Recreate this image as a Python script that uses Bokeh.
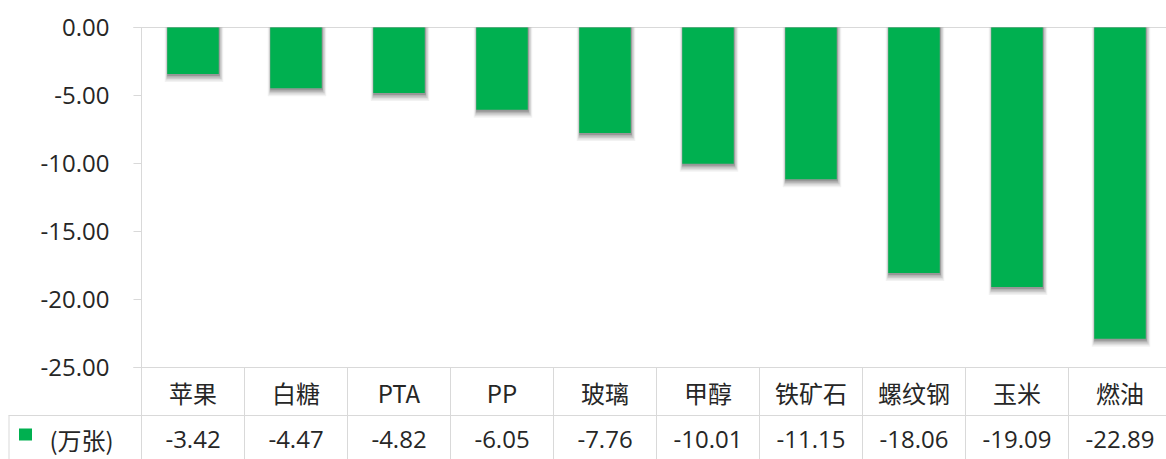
from bokeh.plotting import figure
from bokeh.models import Range1d, ColumnDataSource
from bokeh.core.properties import value
from bokeh.embed import file_html
from bokeh.resources import INLINE

# ---- data ----
categories = ["苹果", "白糖", "PTA", "PP", "玻璃", "甲醇", "铁矿石", "螺纹钢", "玉米", "燃油"]
values = [-3.42, -4.47, -4.82, -6.05, -7.76, -10.01, -11.15, -18.06, -19.09, -22.89]
series_name = "(万张)"
y_ticks = [0, -5, -10, -15, -20, -25]

GREEN = "#00B050"
TEXT = "#262626"
GRID = "#d9d9d9"
NUM_FONT = "Open Sans"
CJK_FONT = "Noto Sans CJK SC"

W, H = 1166, 459
PLOT_LEFT = 141     # page x of the value axis
PLOT_TOP = 27       # page y of the zero line
CAT_PX = 103        # px per category
PX_PER_UNIT = 13.6  # px per y unit


def X(page_x):
    return (page_x - PLOT_LEFT) / CAT_PX


def Y(page_y):
    return -(page_y - PLOT_TOP) / PX_PER_UNIT


px_x = 1.0 / CAT_PX
px_y = 1.0 / PX_PER_UNIT

n = len(categories)
xs = [i + 0.5 for i in range(n)]
x_lo, x_hi = X(0), X(W)
y_lo, y_hi = Y(H), Y(0)

bars = ColumnDataSource(dict(x=xs, top=[0] * n, bottom=values,
                             label=categories,
                             vtxt=["%.2f" % v for v in values]))
ticks = ColumnDataSource(dict(y=y_ticks, txt=["%.2f" % t if t != 0 else "0.00" for t in y_ticks]))

p = figure(width=W, height=H, output_backend="svg", toolbar_location=None,
           x_range=Range1d(x_lo, x_hi), y_range=Range1d(y_lo, y_hi),
           x_axis_location=None, y_axis_location=None, min_border=0)
p.outline_line_color = None
p.background_fill_color = "white"
p.border_fill_color = "white"
p.grid.visible = False

# horizontal rules at 0 and -25 (extend over the tick marks)
p.segment(x0=X(133), y0=[y_ticks[0], y_ticks[-1]], x1=x_hi, y1=[y_ticks[0], y_ticks[-1]],
          line_color=GRID, line_width=1)

# bar shadows (soft, mostly below)
shadow_cfg = [(1.0, 7.0, 8.0, 0.05), (1.0, 5.0, 6.5, 0.07), (1.0, 3.5, 5.0, 0.09),
              (0.5, 2.0, 3.5, 0.12), (0.5, 1.0, 2.0, 0.15)]
for dx, dw, dy, a in shadow_cfg:
    p.vbar(x=[x + dx * px_x for x in xs], width=0.5 + dw * px_x, top=0,
           bottom=[v - dy * px_y for v in values],
           fill_color="black", fill_alpha=a, line_color=None)

p.vbar(x="x", width=0.5, top="top", bottom="bottom", source=bars,
       fill_color=GREEN, line_color=None)

# value axis: line, ticks, labels
p.segment(x0=[0], y0=[0], x1=[0], y1=[y_lo], line_color=GRID, line_width=1)
p.segment(x0=X(133), y0="y", x1=0, y1="y", source=ticks, line_color=GRID, line_width=1)
p.text(x=X(109), y="y", text="txt", source=ticks, text_font=value(NUM_FONT),
       text_font_size="24px", text_color=TEXT, text_align="right",
       text_baseline="middle")

# category row + data table
row_y = Y(415)
p.segment(x0=[X(8)], y0=[row_y], x1=[x_hi], y1=[row_y], line_color=GRID)
seps = list(range(1, n + 1))
p.segment(x0=seps, y0=[-25] * len(seps), x1=seps, y1=[y_lo] * len(seps), line_color=GRID)
p.segment(x0=[X(8.5)], y0=[row_y], x1=[X(8.5)], y1=[y_lo], line_color=GRID)

p.text(x="x", y=Y(392), text="label", source=bars, text_font=value(CJK_FONT),
       text_font_size="24px", text_color=TEXT, text_align="center",
       text_baseline="middle")
p.text(x="x", y=Y(439), text="vtxt", source=bars, text_font=value(NUM_FONT),
       text_font_size="24px", text_color=TEXT, text_align="center",
       text_baseline="middle")

# legend key + series name in the table's first cell
p.rect(x=[X(25)], y=[Y(434)], width=13 * px_x, height=12 * px_y,
       fill_color=GREEN, line_color=None)
p.text(x=[X(49)], y=[Y(439)], text=[series_name], text_font=value(CJK_FONT),
       text_font_size="24px", text_color=TEXT, text_align="left",
       text_baseline="middle")

open("out.html", "w").write(file_html(p, INLINE))
